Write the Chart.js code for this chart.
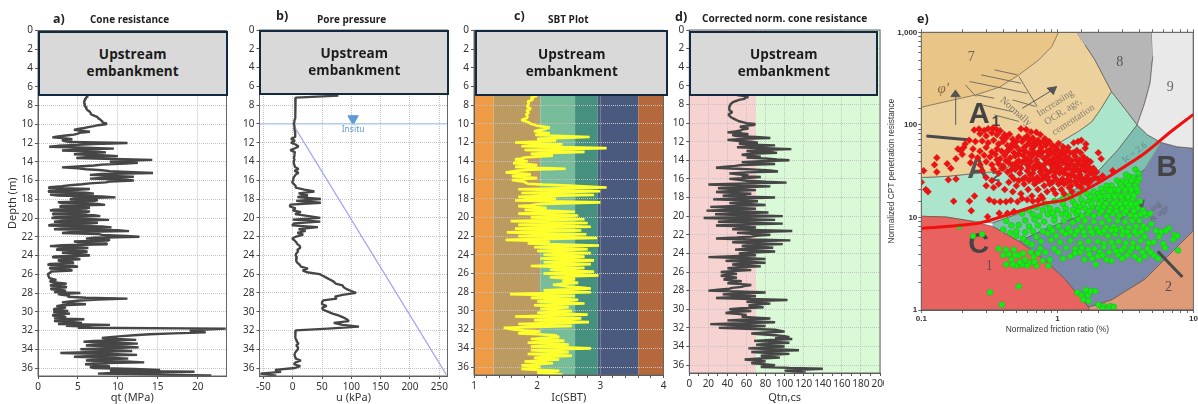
<!DOCTYPE html>
<html><head><meta charset="utf-8">
<script src="https://cdn.jsdelivr.net/npm/chart.js@4"></script>
<style>
html,body{margin:0;padding:0;background:#fff;width:1198px;height:404px;overflow:hidden}
#stage{position:absolute;left:0;top:0;width:1198px;height:404px;overflow:hidden;filter:blur(.45px)}
.pane{position:absolute;top:0;height:404px;overflow:hidden}
.pane canvas{display:block}
.t{position:absolute;white-space:nowrap;color:#222;font-family:"Open Sans",sans-serif;font-weight:700;transform:translateY(-50%)}
.box{position:absolute;box-sizing:border-box;background:#d9d9d9;border:2px solid #12293f;color:#1b1b1b;font-family:"Open Sans",sans-serif;font-weight:700;font-size:13.5px;letter-spacing:.1px;line-height:17px;text-align:center;display:flex;align-items:center;justify-content:center}
</style></head><body><div id="stage"></div>
<script>
const depthTicksStep = 2;
const depths = [
7,7.2,7.4,7.6,7.8, 8,8.2,8.4,8.6,8.8, 9,9.2,9.4,9.6,9.8, 10,10.2,10.4,10.6,10.8,
11,11.2,11.4,11.6,11.8, 12,12.2,12.4,12.6,12.8, 13,13.2,13.4,13.6,13.8, 14,14.2,14.4,14.6,14.8,
15,15.2,15.4,15.6,15.8, 16,16.2,16.4,16.6,16.8, 17,17.2,17.4,17.6,17.8, 18,18.2,18.4,18.6,18.8,
19,19.2,19.4,19.6,19.8, 20,20.2,20.4,20.6,20.8, 21,21.2,21.4,21.6,21.8, 22,22.2,22.4,22.6,22.8,
23,23.2,23.4,23.6,23.8, 24,24.2,24.4,24.6,24.8, 25,25.2,25.4,25.6,25.8, 26,26.2,26.4,26.6,26.8,
27,27.2,27.4,27.6,27.8, 28,28.2,28.4,28.6,28.8, 29,29.2,29.4,29.6,29.8, 30,30.2,30.4,30.6,30.8,
31,31.2,31.4,31.6,31.8, 32,32.2,32.4,32.6,32.8, 33,33.2,33.4,33.6,33.8, 34,34.2,34.4,34.6,34.8,
35,35.2,35.4,35.6,35.8, 36,36.2,36.4,36.6,36.8];
const depthsFine = [
7,7.1,7.2,7.3,7.4,7.5,7.6,7.7,7.8,7.9, 8,8.1,8.2,8.3,8.4,8.5,8.6,8.7,8.8,8.9, 9,9.1,9.2,9.3,9.4,9.5,9.6,9.7,9.8,9.9,
10,10.1,10.2,10.3,10.4,10.5,10.6,10.7,10.8,10.9, 11,11.1,11.2,11.3,11.4,11.5,11.6,11.7,11.8,11.9, 12,12.1,12.2,12.3,12.4,12.5,12.6,12.7,12.8,12.9,
13,13.1,13.2,13.3,13.4,13.5,13.6,13.7,13.8,13.9, 14,14.1,14.2,14.3,14.4,14.5,14.6,14.7,14.8,14.9, 15,15.1,15.2,15.3,15.4,15.5,15.6,15.7,15.8,15.9,
16,16.1,16.2,16.3,16.4,16.5,16.6,16.7,16.8,16.9, 17,17.1,17.2,17.3,17.4,17.5,17.6,17.7,17.8,17.9, 18,18.1,18.2,18.3,18.4,18.5,18.6,18.7,18.8,18.9,
19,19.1,19.2,19.3,19.4,19.5,19.6,19.7,19.8,19.9, 20,20.1,20.2,20.3,20.4,20.5,20.6,20.7,20.8,20.9, 21,21.1,21.2,21.3,21.4,21.5,21.6,21.7,21.8,21.9,
22,22.1,22.2,22.3,22.4,22.5,22.6,22.7,22.8,22.9, 23,23.1,23.2,23.3,23.4,23.5,23.6,23.7,23.8,23.9, 24,24.1,24.2,24.3,24.4,24.5,24.6,24.7,24.8,24.9,
25,25.1,25.2,25.3,25.4,25.5,25.6,25.7,25.8,25.9, 26,26.1,26.2,26.3,26.4,26.5,26.6,26.7,26.8,26.9, 27,27.1,27.2,27.3,27.4,27.5,27.6,27.7,27.8,27.9,
28,28.1,28.2,28.3,28.4,28.5,28.6,28.7,28.8,28.9, 29,29.1,29.2,29.3,29.4,29.5,29.6,29.7,29.8,29.9, 30,30.1,30.2,30.3,30.4,30.5,30.6,30.7,30.8,30.9,
31,31.1,31.2,31.3,31.4,31.5,31.6,31.7,31.8,31.9, 32,32.1,32.2,32.3,32.4,32.5,32.6,32.7,32.8,32.9, 33,33.1,33.2,33.3,33.4,33.5,33.6,33.7,33.8,33.9,
34,34.1,34.2,34.3,34.4,34.5,34.6,34.7,34.8,34.9, 35,35.1,35.2,35.3,35.4,35.5,35.6,35.7,35.8,35.9, 36,36.1,36.2,36.3,36.4,36.5,36.6,36.7,36.8];
const qt = [
6.3,6.1,6,5.9,5.9,5.8,5.8,5.8,5.8,5.9,
5.8,5.9,6.1,6,6.1,6.2,6.4,6.5,6.6,6.6,
6.8,7.1,7.4,7.5,7.6,7.8,7.9,8.1,8,8.6,
8.5,7.5,7,6.3,5.8,5,4.5,5.5,6.5,5.2,
5,4.5,3.5,2.5,1.8,3.5,4.3,3,3.3,4,
11.2,7,5,2.5,1.4,6,9.5,5,3,7,
8.5,6,4.5,8,10,6,4.8,9.5,14.3,11,
9,12.5,11,8,7,5,3,5,6,8,
9,12,14.4,8,6.5,9,12,8.5,6.5,11,
12,9,8.5,6.5,5.5,4,3,1.5,1.3,6.5,
5,1.4,1.3,6,7,1.5,2.5,8,9.7,4.5,
4,7.5,7,2.5,3,7.5,8.4,3,2.7,6.5,
6,2,1.5,6.5,6,2,1.8,7,7.8,2.2,
1.7,6,8.9,3,2,7.5,6.5,1.7,1.3,8,
9.2,3,2,10,11.4,4,3,7.5,8,11,
12.7,7,6,9,8.8,4.5,5,8.5,8.7,3,
1.5,5,6.3,2.5,2.3,5.8,6.2,3,4,6,
6.5,2,1.8,4.8,5.3,2.5,2.7,4.2,4.5,1.5,
1.2,4.5,5,1.5,1.5,4,4.3,1.6,1.6,1.4,
1.2,1.3,1.3,1.4,1.4,1.8,2.3,1.6,1.5,2.5,
3.6,2,1.5,3.4,3.6,1.7,1.6,3.2,3.5,2,
5.3,2.5,3,4,3.7,6,11.2,7.5,5.3,4,
3,4.5,6,3,2.3,3.5,3.2,2,2,3.8,
1.9,3,4,2,1.8,3.3,3.5,2,5.8,3,
2,4.5,5.5,2.5,9,3.5,6.7,5,23.5,21,
19,20,21,17,14,12,10.5,9,8,10,
12.3,7,5.7,10,12.5,7,6,11,12.6,8,
5.3,10,11.8,6,2.8,9,12.4,7,4.5,9,
11.3,7,6,11,13.3,7,5.9,8,9,6.5,
7,12,15.3,9,19.6,10,7.5,15,21.7];
const poreU = [
78,5,5,5,5, 5,5,4,4,4, 4,4,4,3,3, 2,3,3,3,4,
4,4,5,-3,4, -3,5,10,4,-4, 4,3,3,2,3, 2,2,3,4,10,
3,10,5,3,1, 1,-1,2,5,5, 20,37,10,26,8, 48,6,48,-4,-5,
5,0,14,4,25, 47,0,47,2,-1, 43,10,22,8,18, 6,-1,3,6,8,
12,13,8,9,6, 5,7,6,6,8, 12,14,26,17,24, 46,52,58,64,70,
73,85,87,92,100, 108,85,72,75,52, 50,50,58,50,52, 60,68,78,86,92,
96,70,85,113,60, 5,4,4,5,5, 6,7,10,6,9, 9,6,4,3,4,
5,14,5,2,13, 4,-30,-20,-55,-28];
const hydroU = [0,262];
const hydroD = [10,36.7];
const icSbt = [
2,1.95,1.9,1.92,1.93,1.9,1.85,1.86,1.87,1.86,
1.85,1.84,1.85,1.88,1.9,1.86,1.83,1.85,1.87,1.85,
1.82,1.84,1.85,1.84,1.83,1.78,1.75,1.8,1.85,1.88,
1.9,1.95,2,2.1,2.2,2.15,2.1,2,1.95,2.05,
2.2,2.05,1.97,2.4,2.83,2.4,2,2.15,2.3,2,
1.65,2,2.4,2,1.75,2.5,3.1,2.3,1.8,2.3,
2.75,2.2,1.9,2.1,2.25,2,1.8,1.75,1.65,1.75,
1.85,1.7,1.62,1.8,2,1.8,1.65,2,2.45,1.9,
1.7,1.6,1.5,1.7,1.9,1.75,1.6,1.8,2,1.8,
1.6,1.7,1.8,1.82,1.85,2.1,2.5,2.8,3.1,2.4,
1.7,2.4,3,2.3,1.75,2.4,2.9,2.2,1.7,2,
2.3,1.9,1.65,2.4,3,2.4,2,1.9,1.7,1.95,
2.15,1.95,1.8,2.2,2.6,2.1,1.7,2.2,2.65,2.2,
1.9,2.3,2.75,2.1,1.58,2.2,2.8,2.2,1.7,2.3,
2.85,2.2,1.65,2.2,2.7,2.1,1.52,2.2,2.78,2.2,
1.7,2.4,2.95,2.2,1.5,1.9,2.2,2,1.85,2.4,
2.98,2.4,1.95,2.4,2.8,2.4,2,2.4,2.85,2.4,
2.1,2.4,2.75,2.4,2.05,2.5,2.9,2.5,2.1,2.5,
2.85,2.4,1.9,2.3,2.75,2.4,2.2,2.5,2.9,2.5,
2.1,2.5,2.97,2.6,2.2,2.4,2.6,2.5,2.4,2.5,
2.65,2.4,2.25,2.4,2.5,2.7,2.85,2.5,2.1,2.5,
2.85,2.2,1.57,2.1,2.6,2.2,1.9,2.3,2.65,2.3,
2,2.4,2.75,2.3,1.95,2.2,2.5,2.3,2.05,2.3,
2.55,2.3,2,2.4,2.8,2.2,1.65,2.2,2.7,2.3,
1.95,2.4,2.82,2.2,1.7,2.1,2.55,2,1.47,1.55,
1.65,1.8,2.05,1.85,1.7,2,2.3,2.3,2.35,2.1,
1.9,2.2,2.43,2.1,1.85,2.2,2.5,2.2,1.9,2.4,
2.85,2.3,1.9,2.2,2.5,2.2,1.85,2.2,2.55,2.2,
1.95,2.15,2.35,2.05,1.8,2,2.25,2,1.75,1.9,
2.05,1.9,1.75,2,2.35,2.2,2,2.2,2.4];
const qtnCs = [
50,58,62,58,58,52,50,47,45,44,
43,43,42,42,42,42,42,43,45,44,
42,41,42,43,44,46,48,50,52,56,
60,69,68,58,53,60,62,55,54,48,
40,55,62,45,50,70,85,55,40,50,
65,72,52,60,90,65,50,80,107,75,
60,85,92,65,55,62,75,60,80,92,
105,75,55,70,90,55,48,35,28,50,
70,85,93,60,42,50,62,55,75,60,
42,52,60,80,102,50,20,50,85,55,
30,50,70,45,28,45,65,50,35,60,
90,50,25,55,72,55,42,60,80,50,
22,45,70,45,18,55,83,50,27,60,
98,50,15,55,90,50,30,60,98,55,
28,55,70,55,45,75,108,70,50,65,
85,70,65,50,28,65,106,60,45,70,
98,65,55,75,88,60,48,70,90,65,
52,60,70,45,20,55,80,50,38,60,
80,55,45,60,75,50,40,52,65,45,
33,42,50,40,33,42,50,40,36,45,
55,45,40,55,65,58,55,45,42,30,
20,50,80,55,35,55,70,45,28,65,
103,75,60,75,85,70,62,70,78,55,
42,55,65,45,38,50,60,58,55,70,
85,60,40,70,90,55,22,50,80,55,
31,60,90,95,100,80,65,75,90,100,
105,90,108,85,68,85,105,85,70,85,
100,80,62,90,115,85,65,85,105,85,
75,85,95,75,58,70,80,70,65,78,
90,80,75,105,140,115,100,110,122];
const icBandEdges = [1,1.31,2.05,2.6,2.96,3.6,4];
const icBandColors = ['#ef9a45','#bc9b60','#78bd9a','#45907f','#4a5a7e','#b5683b'];
const qtnBandEdges = [0,70,200];
const qtnBandColors = ['#f6d3d0','#daf9d6'];

const zone7 = [[.1,1000],[1.02,1000],[.91,700],[.73,503],[.522,347],[.374,255],[.253,211],[.153,179],[.1,155]];
const zone6 = [[.1,1000],[1.39,1000],[1.6,730],[1.89,503],[2.5,229],[2.1,151],[1.79,108],[1.43,85],[1.07,66],[.69,45],[.353,31.4],[.153,27.8],[.1,27]];
const zone5 = [[.1,27],[.153,27.8],[.353,31.4],[.69,45],[1.07,66],[1.43,85],[1.79,108],[2.1,151],[2.5,229],[3.12,151],[3.86,100],[2.8,54],[1.89,29],[1.14,16.9],[.62,12.1],[.334,8.7],[.226,9.2],[.153,10.1],[.1,10.3]];
const zone4 = [[.334,8.7],[.62,12.1],[1.14,16.9],[1.89,29],[2.8,54],[3.86,100],[4.6,78],[5.8,64.5],[4.38,33],[2.5,16.9],[1.45,10.3],[.82,7.5],[.525,5.5],[.334,8]];
const zone3 = [[5.8,64.5],[7.6,58],[10,56],[10,7.2],[6.84,4.12],[4.38,2.14],[2.5,1.28],[1.69,1.07],[1.14,2.14],[.82,3.4],[.525,5.5],[.82,7.5],[1.45,10.3],[2.5,16.9],[4.38,33]];
const zone2 = [[10,7.2],[6.84,4.12],[4.38,2.14],[2.5,1.28],[1.69,1.07],[1.72,1],[10,1]];
const zone1 = [[.1,10.3],[.153,10.1],[.226,9.2],[.334,8],[.525,5.5],[.82,3.4],[1.14,2.14],[1.69,1.07],[1.72,1],[.1,1]];
const zone8 = [[1.39,1000],[4.95,1000],[5.03,547],[4.8,282],[4.38,171],[3.86,100],[3.12,151],[2.5,229],[1.89,503],[1.6,730]];
const zone9 = [[4.95,1000],[10,1000],[10,56],[7.6,58],[5.8,64.5],[4.6,78],[3.86,100],[4.38,171],[4.8,282],[5.03,547]];
const zoneColors = {zone1:'#e8635f',zone2:'#df9b77',zone3:'#7a87aa',zone4:'#7fbfb2',zone5:'#abe5cc',zone6:'#edd19c',zone7:'#e9c588',zone8:'#b6b6b6',zone9:'#e9e9e9'};
const boundaryCurve = [[.1,7.6],[.153,8],[.267,8.7],[.468,11.1],[.82,14.3],[1.14,15.5],[1.79,21.6],[2.5,28.8],[4.38,49.4],[6.84,84.7],[10,130]];
const hatchLines = [[.344,393],[.508,347],null,[.275,347],[.538,282],null,[.226,294],[.601,220],null,[.211,270],[.253,202],null,[.253,211],[.344,194],null,[.468,186],[.692,158],null,[.282,164],[.468,139],null,[.344,128],[.522,109],null,[.374,96],[.43,75],null,[.522,333],[.711,158]];
const arrowShafts = [[.179,100],[.179,210],null,[.553,151],[.95,245],null,[2.8,9.06],[4.2,14.5]];
const arrowHeadA = [[.179,239],[.165,202],[.194,202]];
const arrowHeadB = [[.995,259],[.84,249],[.94,211]];
const arrowHeadC = [[4.38,15.5],[3.8,14.2],[4.25,12.3]];
const thickBars = [[.109,76],[.22,69],null,[5.47,4.3],[8.3,2.27]];

const redPoints = [
[.1,24],[.108,20],[.104,32],[.13,44],[.125,37],[.13,31],[.155,38],[.165,34],[.158,25.5],[.18,26],[.186,55],[.18,43],[.195,53],[.205,57],
[.112,19],[.173,15],[.233,11.8],[.226,15],[.246,17],[.307,10.2],[.374,11.1],[.43,11.1],[.48,11.6],[.316,15.5],[.344,14.8],[.38,14.8],[.42,14.8],[.455,15.2],[.51,14.8],
[.245,88],[.265,90],[.29,87],[.31,91],[.335,92],[.355,90],[.38,86],[.41,78],[.445,79],[.27,80],[.3,76],[.33,82],[.36,78],[.395,72],[.54,91],[.59,89],[.64,84],[.7,83],[.75,78],[.6,76],[.66,72],[.52,74],[.81,71],[.87,66],[.72,68],
[.21,62],[.225,68],[.25,66],[.28,67],[.31,64],[.34,68],[.37,62],[.4,66],[.43,60],[.47,63],[.5,58],[.55,66],[.6,61],[.65,55],[.7,62],[.76,57],[.82,60],[.88,54],[.95,51],[1.02,63],[1.1,58],[1.2,57],[1.32,64],[1.42,66],[1.5,68],[1.62,62],[1.6,56],[.24,55],[.27,52],[.3,57],[.33,51],[.36,55],[.39,52],[.44,54],[.48,50],[.53,53],[.58,52],[.63,62],[.68,50],[.74,52],[1,54],[1.07,50],[1.16,52],[2,50],[2.1,43],[2.55,32],
[.2,48],[.235,46],[.26,44],[.29,47],[.32,45],[.35,48],[.38,43],[.41,47],[.45,44],[.49,46],[.52,41],[.56,47],[.6,43],[.65,46],[.7,42],[.75,47],[.8,43],[.85,46],[.92,42],[.98,46],[1.05,43],[1.12,47],[1.2,44],[1.28,41],[1.35,46],[1.45,42],[.23,39],[.27,37],[.3,40],[.33,37],[.37,38],[.4,36],[.44,39],[.47,37],[.51,36],[.55,39],[.6,37],[.64,40],[.68,36],[.73,38],[.78,36],[.83,39],[.9,37],[.96,38],[1.03,36],[1.1,39],[1.18,37],[1.25,38],[1.33,36],[1.42,38],[1.52,36],[1.6,38],[1.7,35],
[.34,33],[.37,30],[.4,34],[.43,31],[.46,28],[.49,33],[.53,30],[.56,26],[.6,32],[.63,29],[.67,33],[.71,27],[.75,31],[.79,34],[.82,28],[.86,25],[.9,32],[.94,28],[1,34],[1.04,30],[1.09,26],[1.14,33],[1.19,29],[1.24,25],[1.3,31],[1.36,27],[1.41,33],[1.47,29],[1.53,26],[1.6,32],[1.66,28],[1.72,25],[1.8,30],[1.9,27],[2,26],[2.15,28],[.28,32],[.3,27],[.33,25],
[.3,22],[.34,21],[.37,23],[.41,20],[.44,24],[.47,19],[.5,22],[.54,18],[.57,23],[.61,20],[.65,17],[.68,23],[.72,20],[.76,17],[.8,22],[.84,19],[.88,23],[.93,20],[.97,18],[1.02,23],[1.07,20],[1.12,18],[1.17,24],[1.22,21],[1.28,19],[1.35,24],[1.42,22],[1.5,21],[1.58,24],[1.68,23],[.6,15.5],[.66,15],[.72,15.2],[.55,16],[.78,16],
[.42,72],[.47,70],[.5,66],[.57,71],[.62,68],[.68,65],[.74,63],[.79,66],[.84,63],[.92,60],[.97,57],[.43,52],[.46,57],[.52,48],[.57,57],[.62,49],[.67,58],[.72,48],[.78,51],[.84,52],[.9,49],[.96,44],[1.03,47],[1.09,53],[1.14,42],[1.24,50],[1.31,50],[1.39,53],[1.48,50],[1.56,45],[1.66,42],[1.75,40],
[.36,42],[.39,34],[.42,41],[.46,33],[.5,39],[.54,34],[.58,42],[.62,35],[.66,30],[.7,37],[.74,34],[.77,29],[.81,33],[.85,30],[.88,41],[.93,35],[.97,31],[1.01,40],[1.07,33],[1.12,30],[1.16,41],[1.22,34],[1.27,29],[1.33,33],[1.38,42],[1.44,31],[1.5,33],[1.56,40],[1.64,35],[1.74,31],[1.84,34],[1.94,31],
[.48,26],[.52,25],[.58,27],[.62,25],[.66,26],[.7,24],[.74,25],[.78,26],[.85,27],[.92,24],[.98,26],[1.05,24],[1.12,23],[1.2,26],[1.26,22],[1.33,28],[1.44,26],[1.52,24],[1.62,26],[1.78,25]];
const greenPoints = [
[3.75,33],[3.95,30],[3.2,29],[3.4,27.5],[3.6,27],[4,26],[3.85,24],[3.5,25],[3.05,25],[2.75,25],[3.2,24],[2.9,22.5],[2.5,22],[2.3,22],[2.1,20.5],[2.35,20],[2.65,20],[3,21],[3.35,22],[3.75,22],[2.15,18.5],
[1.1,16],[1.25,17],[1.45,18],[1.65,18],[1.85,19],[2,18],[2.25,17],[2.5,18],[2.8,18],[3.15,18],[3.5,18.5],[3.9,19],[.82,14],[.95,15],[1.1,14],[1.3,15],[1.5,15.5],[1.7,15],[1.9,16],[2.1,15],[2.4,15.5],[2.7,15],[3,15.5],[3.3,15],[3.6,16],[4.05,15],
[.62,12],[.7,13],[.78,12],[.88,12.5],[1,12],[1.15,12.5],[1.3,12],[1.45,13],[1.6,12.5],[1.8,13],[2,12.5],[2.2,13],[2.45,12.5],[2.7,13],[3,12.5],[3.3,13],[3.6,13],[3.9,12.5],[4.25,12],[.55,11],[.66,10.8],[.74,10.3],[.85,10.8],[.95,10.2],[1.08,10.8],[1.22,10.3],[1.38,11],[1.52,10.4],[1.68,11],[1.85,10.4],[2.05,11],[2.3,10.3],[2.55,11],[2.85,10.4],[3.1,11],[3.45,10.6],[3.75,10.3],[4.1,10.8],[4.5,10.5],[4.8,11],
[.42,9.2],[.46,8.2],[.52,8.3],[.58,9.3],[.62,8],[.68,9.5],[.72,8.2],[.8,9],[.88,7.8],[.95,9.3],[1.02,8],[1.12,9.2],[1.2,7.7],[1.3,8.8],[1.42,9.5],[1.5,8],[1.6,9.2],[1.72,7.8],[1.85,9],[1.95,7.6],[2.12,8.8],[2.28,7.8],[2.4,9.3],[2.6,8],[2.78,9.2],[2.95,7.7],[3.15,9],[3.35,7.8],[3.55,9.2],[3.8,8],[4,9.2],[4.3,8],[4.55,7.5],[4.9,8.5],[5.3,7.2],[5.8,7],[6.6,7.6],[6.3,7.2],[7.3,6.5],
[.45,6.8],[.5,6.3],[.7,6.2],[.76,5.5],[.85,6.7],[.9,5.7],[.98,6.3],[1.05,5.4],[1.15,6.6],[1.25,5.6],[1.35,6.5],[1.47,5.3],[1.58,6.4],[1.7,5.5],[1.82,6.6],[1.98,5.5],[2.1,6.7],[2.2,5.2],[2.35,6.3],[2.5,5.4],[2.65,6.6],[2.82,5.5],[3,6.5],[3.18,5.3],[3.38,6.3],[3.6,5.3],[3.82,6.6],[4.1,5.6],[4.4,6.2],[4.7,5.3],[5.1,5.4],[5.6,6.2],[6,5.2],[7.1,5.8],[7.6,6.3],
[.37,4.6],[.42,4.5],[.48,4.5],[.44,4],[.52,3.9],[.46,3.5],[.58,3.5],[.42,3.1],[.5,3],[.55,3.1],[.62,3.2],[.67,3.7],[.7,3],[.75,4.6],[.82,4.2],[.88,3.5],[.86,3],[.95,4.6],[1.02,4.2],[1.1,3.6],[1.16,4.7],[1.25,3.8],[1.35,4.6],[1.48,4.2],[1.58,3.5],[1.68,4.5],[1.8,3.6],[1.92,3.1],[1.88,4.6],[2.05,4.2],[2.2,4.8],[2.4,4.2],[2.6,4.8],[2.8,3.9],[3,3.6],[3.1,4.7],[3.4,4.3],[3.7,3.8],[3.9,4.7],[4.2,4.2],[4.4,3.8],[4.6,4.6],[5.1,3.9],[5.5,3.6],[6.2,4.7],[7.7,4.4],
[.32,1.55],[.39,1.14],[.52,1.8],[1.4,1.55],[1.5,1.45],[1.55,1.3],[1.63,1.55],[1.68,1.45],[1.75,1.6],[1.9,1.6],[1.62,1.65],[1.7,1.25],[2,1.14],[2.2,1.1],[2.3,1.03],[2.45,1.1],[2.6,1.08],[2.35,1.02],[2.15,1.03],[.19,8],[.24,6.3],[.28,6.6],
[.4,3.9],[.47,3.1],[.49,3.9],[.53,3.3],[.56,4.1],[.6,3],[.64,4.2],[.68,3.3],[.72,4.1],[.78,3.4],[.6,5.4],[.65,5.1],[.56,5.9],[.4,7.4],[.5,7.1],[.58,6.9],[.66,7.1],[.78,7.1],[.92,7.2],[1.08,7.1],[1.25,7],[1.4,7.2],[1.56,7],[1.78,7],[2.02,7],[2.2,7.2],[2.5,7.3],[2.7,7.3],[3.05,7.1],[3.25,7],[3.7,7.1],[4.15,7],
[.92,11.2],[1.16,11],[1.42,11.7],[1.72,11.7],[2.12,11.7],[2.4,11.7],[2.72,11.7],[3.2,11.7],[3.65,11.7],[4.35,11.2],[1.35,13.8],[1.55,14],[1.78,14],[2.02,14],[2.28,14.2],[2.58,14.2],[2.88,14],[3.18,14.2],[3.48,14],[3.8,14],[1.75,16.7],[2.05,16.8],[2.38,17],[2.65,16.8],[2.95,16.8],[3.3,16.8],[3.65,17.2],[2.45,19.5],[2.8,19.8],[3.15,20],[3.5,20],[3.85,20.5],
[1.35,4.1],[1.52,4.7],[1.72,4],[1.98,3.8],[2.15,3.9],[2.3,3.5],[2.5,3.4],[2.7,4.3],[2.95,4.4],[3.25,3.9],[3.55,4.7],[4,3.5],[4.85,4.2]];

const serif = '"Liberation Serif",serif', sans = '"Liberation Sans",sans-serif';
const zoneNotes = [
 {x:.233,y:537,text:'7',font:'14px '+serif,color:'#6b6257'},
 {x:2.88,y:474,text:'8',font:'14px '+serif,color:'#555'},
 {x:6.76,y:255,text:'9',font:'14px '+serif,color:'#666'},
 {x:.316,y:3,text:'1',font:'14px '+serif,color:'#6b4a55'},
 {x:6.55,y:1.76,text:'2',font:'14px '+serif,color:'#5a4a48'},
 {x:.267,y:128,text:'A',font:'bold 29px '+sans,color:'#444'},
 {x:.354,y:107,text:'1',font:'bold 15px '+sans,color:'#444'},
 {x:.26,y:32.7,text:'A',font:'bold 29px '+sans,color:'#555'},
 {x:.354,y:27.6,text:'2',font:'bold 15px '+sans,color:'#555'},
 {x:6.4,y:34,text:'B',font:'bold 29px '+sans,color:'#444'},
 {x:.264,y:5.07,text:'C',font:'bold 29px '+sans,color:'#444'},
 {x:.145,y:243,text:"φ'",font:'italic 15px '+serif,color:'#8a6a40'},
 {x:.494,y:139,text:'Normally',font:'10px '+serif,color:'#77706a',rot:42},
 {x:.966,y:171,text:'Increasing',font:'10px '+serif,color:'#85806f',rot:-33},
 {x:1.1,y:139,text:'OCR, age,',font:'10px '+serif,color:'#85806f',rot:-33},
 {x:1.31,y:113,text:'cementation',font:'10px '+serif,color:'#85806f',rot:-33},
 {x:3.7,y:50,text:'Ic = 2.6',font:'9px '+serif,color:'#5a8a8a',rot:-36},
 {x:5.3,y:13.2,text:'ing',font:'9px '+serif,color:'#667',rot:-40},
 {x:5.6,y:11,text:'& age',font:'9px '+serif,color:'#667',rot:-40}
];
const insituNotes = [{x:103,y:10.6,text:'Insitu',font:'8.5px "Noto Sans",sans-serif',color:'#5b9bd5'}];

const tickFont = {family:'"Noto Sans",sans-serif',size:10};
const dotted = '#c4c4c4';
const stage = document.getElementById('stage');

function drawNotes(chart,notes){
  const {ctx,scales:{x,y}} = chart;
  ctx.save();ctx.textAlign='center';ctx.textBaseline='middle';
  for(const n of notes){
    ctx.save();
    ctx.translate(x.getPixelForValue(n.x),y.getPixelForValue(n.y));
    if(n.rot) ctx.rotate(n.rot*Math.PI/180);
    ctx.font=n.font;ctx.fillStyle=n.color;ctx.fillText(n.text,0,0);
    ctx.restore();
  }
  ctx.restore();
}
const bandsPlugin = (edges,colors)=>({id:'bands',beforeDraw(chart){
  const {ctx,chartArea:a,scales:{x}} = chart;
  colors.forEach((c,i)=>{
    const l=x.getPixelForValue(edges[i]),r=x.getPixelForValue(edges[i+1]);
    ctx.fillStyle=c;ctx.fillRect(l,a.top,r-l,a.bottom-a.top);
  });
}});
const framePlugin = {id:'frame',afterDraw(chart){
  const {ctx,chartArea:a} = chart;
  ctx.save();ctx.strokeStyle='#666';ctx.lineWidth=1;ctx.strokeRect(a.left,a.top,a.right-a.left,a.bottom-a.top);ctx.restore();
}};
const toXY = (xs,ys)=>xs.map((v,i)=>({x:v,y:ys[i]}));
const pairs = arr=>arr.map(p=>p?{x:p[0],y:p[1]}:{x:null,y:null});

function depthPanel(cfg){
  const pane=document.createElement('div');pane.className='pane';
  pane.style.left=cfg.left+'px';pane.style.width=cfg.width+'px';
  const c=document.createElement('canvas');c.width=cfg.width;c.height=404;pane.appendChild(c);stage.appendChild(pane);
  new Chart(c,{type:'scatter',data:{datasets:cfg.datasets},plugins:[...(cfg.plugins||[]),framePlugin],options:{
    responsive:false,animation:false,
    layout:{padding:{left:0,right:cfg.padRight,top:cfg.top,bottom:0}},
    plugins:{legend:{display:false},tooltip:{enabled:false}},
    scales:{
      x:{type:'linear',position:'bottom',min:cfg.xMin,max:cfg.xMax,
        afterFit(s){s.height=404-cfg.bottom;s.paddingLeft=0;s.paddingRight=0;},
        border:{color:'#555',dash:[1,1]},
        grid:{color:cfg.gridColor||dotted,lineWidth:1,tickColor:'#555',tickLength:3,tickBorderDash:[]},
        ticks:{stepSize:cfg.xStep,includeBounds:false,autoSkip:false,maxRotation:0,minRotation:0,font:tickFont,color:'#333',padding:2,callback:cfg.xLabel},
        title:{display:true,text:cfg.xTitle,font:{family:'"Noto Sans",sans-serif',size:11},color:'#333',padding:0}},
      y:{type:'linear',reverse:true,min:0,max:36.85,
        afterFit(s){s.width=cfg.yWidth;s.paddingTop=0;s.paddingBottom=0;},
        border:{color:'#555',dash:[1,1]},
        grid:{color:cfg.gridColorY||dotted,tickColor:'#555',tickLength:3,tickBorderDash:[]},
        ticks:{stepSize:depthTicksStep,includeBounds:false,autoSkip:false,font:tickFont,color:'#333',padding:2},
        title:cfg.yTitle?{display:true,text:cfg.yTitle,font:{family:'"Noto Sans",sans-serif',size:11},color:'#333',padding:{top:6,bottom:0}}:{display:false}}
    }}});
}
const traceStyle=(data,color,w)=>({data,showLine:true,borderColor:color,backgroundColor:color,borderWidth:w,pointRadius:0,tension:0,fill:false,borderJoinStyle:'bevel'});

depthPanel({left:0,width:240,padRight:13.5,top:30.5,bottom:376,yWidth:38,xMin:0,xMax:23.6,xStep:5,xTitle:'qt (MPa)',yTitle:'Depth (m)',
  datasets:[traceStyle(toXY(qt,depthsFine),'#464646',2.4)]});
depthPanel({left:240,width:215,padRight:7.5,top:30,bottom:376,yWidth:19.5,xMin:-56.6,xMax:264,xStep:50,xTitle:'u (kPa)',
  plugins:[{id:'insitu',afterDatasetsDraw(ch){drawNotes(ch,insituNotes);}}],
  datasets:[
    traceStyle(toXY(poreU,depths),'#464646',2.3),
    traceStyle(toXY(hydroU,hydroD),'#a4a4f0',1.2),
    traceStyle(toXY([-56.6,264],[10,10]),'#a9c8ee',1.2),
    {data:[{x:103,y:9.45}],pointStyle:'triangle',rotation:180,pointRadius:6,backgroundColor:'#5b9bd5',borderColor:'#5b9bd5'}
  ]});
depthPanel({left:455,width:215,padRight:6.5,top:30.3,bottom:375,yWidth:19,xMin:1,xMax:4,xStep:.2,xTitle:'Ic(SBT)',
  xLabel:v=>Number.isInteger(+v.toFixed(3))?Math.round(v):'',
  gridColor:c=>{const v=c.tick&&c.tick.value;return v!==undefined&&Number.isInteger(+v.toFixed(3))?'#9a9fb5':'rgba(0,0,0,0)';},
  gridColorY:'#c2c2c2',
  plugins:[bandsPlugin(icBandEdges,icBandColors)],
  datasets:[traceStyle(toXY(icSbt,depthsFine),'#ffff2e',2.6)]});
depthPanel({left:670,width:214,padRight:4,top:30,bottom:373,yWidth:19.3,xMin:0,xMax:200,xStep:10,xTitle:'Qtn,cs',
  xLabel:v=>v%20===0?v:'',
  gridColor:c=>{const v=c.tick&&c.tick.value;return v!==undefined&&v%20===0?'#c4c4c4':'rgba(0,0,0,0)';},
  plugins:[bandsPlugin(qtnBandEdges,qtnBandColors)],
  datasets:[traceStyle(toXY(qtnCs,depthsFine),'#464646',2.4)]});

/* panel e */
(function(){
  const pane=document.createElement('div');pane.className='pane';
  pane.style.left='884px';pane.style.width='314px';
  const c=document.createElement('canvas');c.width=314;c.height=404;pane.appendChild(c);stage.appendChild(pane);
  const poly=(name,pts,order)=>({label:name,data:pairs(pts),showLine:true,fill:'shape',backgroundColor:zoneColors[name],borderColor:'rgba(85,75,60,.6)',borderWidth:1,pointRadius:0,tension:0,order});
  const head=(pts,order)=>({data:pairs(pts),showLine:true,fill:'shape',backgroundColor:'#555',borderColor:'#555',borderWidth:1,pointRadius:0,tension:0,order});
  const lab=()=>v=>{const m={0.1:'0.1',1:'1',10:'10',100:'100',1000:'1,000'};return m[v]||'';};
  const eTick={family:sans,size:8,weight:'bold'};
  new Chart(c,{type:'scatter',
    plugins:[{id:'notes',beforeDatasetDraw(ch,args){if(args.meta.label==='green')drawNotes(ch,zoneNotes);}},framePlugin],
    data:{datasets:[
      poly('zone5',zone5,100),poly('zone6',zone6,99),poly('zone7',zone7,98),poly('zone4',zone4,97),poly('zone3',zone3,96),
      poly('zone2',zone2,95),poly('zone1',zone1,94),poly('zone8',zone8,93),poly('zone9',zone9,92),
      {label:'hatch',data:pairs(hatchLines),showLine:true,borderColor:'#77705f',borderWidth:1,pointRadius:0,tension:0,order:60},
      {label:'shafts',data:pairs(arrowShafts),showLine:true,borderColor:'#5a5a5a',borderWidth:1,pointRadius:0,tension:0,order:59},
      head(arrowHeadA,58),head(arrowHeadB,58),head(arrowHeadC,58),
      {label:'bars',data:pairs(thickBars),showLine:true,borderColor:'#4a4a4a',borderWidth:3,pointRadius:0,tension:0,order:57},
      {label:'green',data:pairs(greenPoints),pointStyle:'circle',pointRadius:2.9,backgroundColor:'#10f010',borderColor:'#3aa63a',borderWidth:.6,order:11},
      {label:'red',data:pairs(redPoints),pointStyle:'rectRot',pointRadius:3.5,backgroundColor:'#ee1111',borderColor:'#c92222',borderWidth:.4,order:10},
      {label:'curve',data:pairs(boundaryCurve),showLine:true,borderColor:'#f01010',borderWidth:3,pointRadius:0,tension:.3,order:5}
    ]},
    options:{responsive:false,animation:false,
      layout:{padding:{left:0,right:2,top:32.3,bottom:69}},
      plugins:{legend:{display:false},tooltip:{enabled:false}},
      scales:{
        x:{type:'logarithmic',position:'bottom',min:.1,max:10,
          afterFit(s){s.height=25;s.paddingLeft=0;s.paddingRight=0;},
          border:{color:'#555'},grid:{drawOnChartArea:false,tickColor:'#666',tickLength:3},
          ticks:{autoSkip:false,maxRotation:0,minRotation:0,font:eTick,color:'#333',padding:1,callback:lab()},
          title:{display:true,text:'Normalized friction ratio (%)',font:{family:sans,size:8.4},color:'#333',padding:0}},
        x2:{type:'logarithmic',position:'top',min:.1,max:10,
          afterFit(s){s.height=0;s.paddingLeft=0;s.paddingRight=0;},
          border:{color:'#555'},grid:{drawOnChartArea:false,tickColor:'#666',tickLength:3},
          ticks:{display:false,autoSkip:false}},
        y:{type:'logarithmic',min:1,max:1000,
          afterFit(s){s.width=37.3;s.paddingTop=0;s.paddingBottom=0;},
          border:{color:'#555'},grid:{drawOnChartArea:false,tickColor:'#666',tickLength:3},
          ticks:{autoSkip:false,font:eTick,color:'#333',padding:1,callback:lab()},
          title:{display:true,text:'Normalized CPT penetration resistance',font:{family:sans,size:8.3},color:'#333',padding:{top:3,bottom:0}}}
      }}});
})();

/* text & overlays */
const heads = [
 {x:53,y:18,s:12.5,text:'a)'},{x:90,y:18.5,s:10,text:'Cone resistance'},
 {x:276,y:15,s:12.5,text:'b)'},{x:317,y:18.5,s:10,text:'Pore pressure'},
 {x:514,y:15,s:12.5,text:'c)'},{x:548,y:18.5,s:10,text:'SBT Plot'},
 {x:675,y:16,s:12.5,text:'d)'},{x:702,y:18,s:10.2,text:'Corrected norm. cone resistance'},
 {x:917,y:18,s:12.5,text:'e)'}];
heads.forEach(h=>{const d=document.createElement('div');d.className='t';d.style.left=h.x+'px';d.style.top=h.y+'px';d.style.fontSize=h.s+'px';d.textContent=h.text;stage.appendChild(d);});
const boxes = [[37.7,30.7,190,65.3],[259.3,29.7,190,65],[475.3,30,193,65.7],[689.3,31,189,64.7]];
boxes.forEach(b=>{const d=document.createElement('div');d.className='box';d.style.cssText+=`left:${b[0]}px;top:${b[1]}px;width:${b[2]}px;height:${b[3]}px;`;d.innerHTML='Upstream<br>embankment';stage.appendChild(d);});
</script></body></html>
